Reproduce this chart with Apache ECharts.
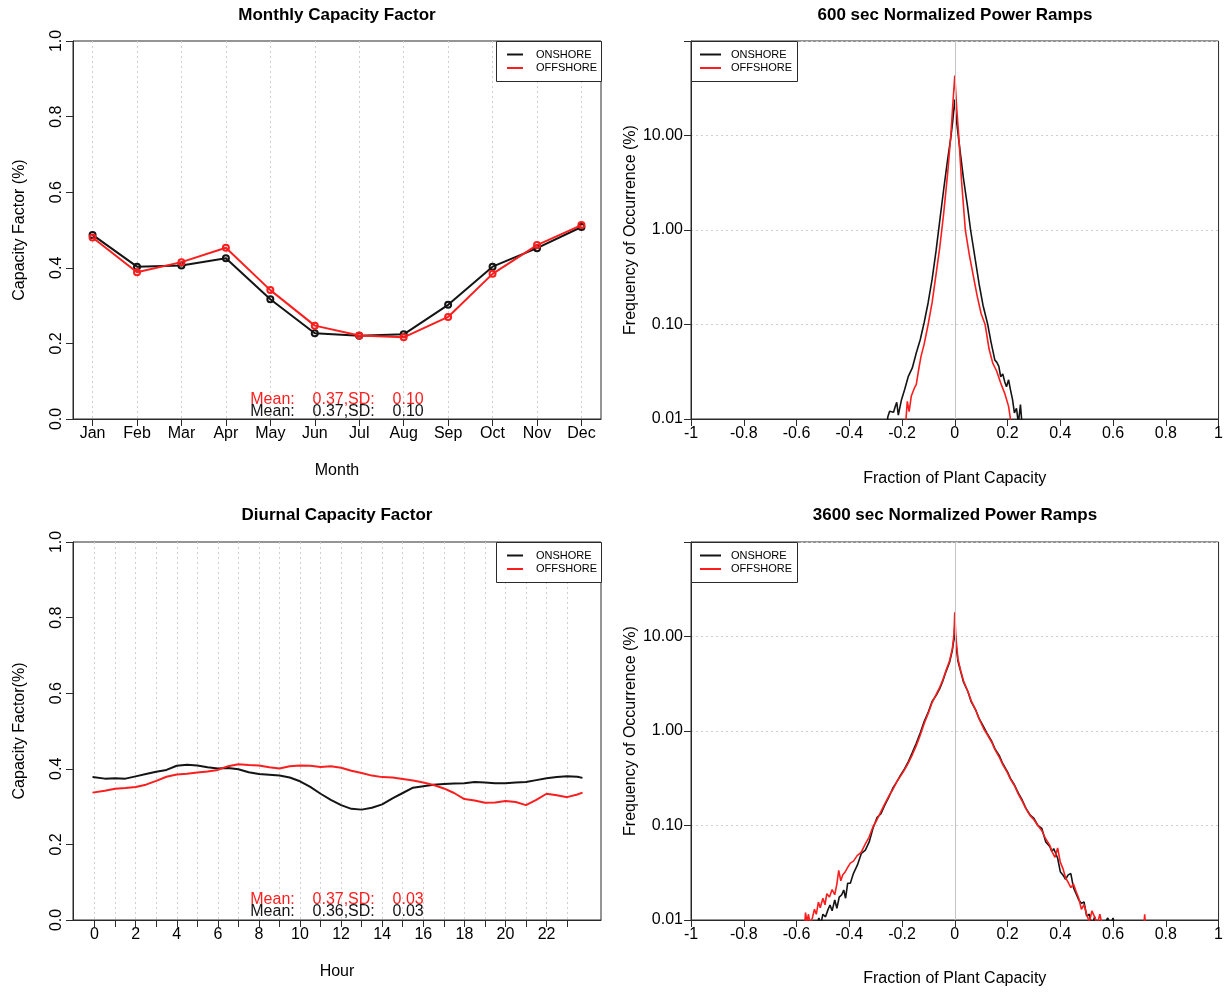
<!DOCTYPE html>
<html>
<head>
<meta charset="utf-8">
<script src="https://cdn.jsdelivr.net/npm/echarts@6/dist/echarts.min.js"></script>
<style>
html, body { margin: 0; padding: 0; background: #fff; }
#chart { width: 1226px; height: 994px; }
</style>
</head>
<body>
<div id="chart"></div>
<script>
// ---- Monthly capacity factor ----
const months = ['Jan', 'Feb', 'Mar', 'Apr', 'May', 'Jun', 'Jul', 'Aug', 'Sep', 'Oct', 'Nov', 'Dec'];
const monthlyOnshore  = [0.487, 0.403, 0.406, 0.425, 0.317, 0.227, 0.220, 0.224, 0.302, 0.403, 0.452, 0.508];
const monthlyOffshore = [0.480, 0.388, 0.415, 0.453, 0.341, 0.247, 0.221, 0.216, 0.270, 0.384, 0.460, 0.513];

// ---- Diurnal capacity factor ----
const diurnalHours = [-0.1, 0.5, 1, 1.5, 2, 2.5, 3, 3.5, 4, 4.5, 5, 5.5, 6, 6.5, 7, 7.5, 8, 8.5, 9, 9.5,
  10, 10.5, 11, 11.5, 12, 12.5, 13, 13.5, 14, 14.5, 15, 15.5, 16, 16.5, 17, 17.5, 18, 18.5, 19, 19.5,
  20, 20.5, 21, 21.5, 22, 22.5, 23, 23.5, 23.75];
const diurnalOnshore = [0.378, 0.374, 0.375, 0.374, 0.380, 0.386, 0.392, 0.397, 0.408, 0.411, 0.409, 0.404,
  0.401, 0.402, 0.399, 0.391, 0.386, 0.384, 0.382, 0.377, 0.367, 0.352, 0.334, 0.318, 0.304, 0.294, 0.292,
  0.297, 0.306, 0.322, 0.336, 0.350, 0.354, 0.358, 0.360, 0.361, 0.362, 0.365, 0.364, 0.362, 0.362, 0.364,
  0.365, 0.370, 0.375, 0.378, 0.380, 0.379, 0.376];
const diurnalOffshore = [0.337, 0.342, 0.347, 0.349, 0.352, 0.358, 0.368, 0.379, 0.385, 0.387, 0.390, 0.393,
  0.397, 0.407, 0.412, 0.410, 0.409, 0.404, 0.401, 0.407, 0.409, 0.408, 0.405, 0.407, 0.403, 0.395, 0.389,
  0.382, 0.378, 0.377, 0.373, 0.369, 0.364, 0.357, 0.348, 0.336, 0.320, 0.316, 0.310, 0.311, 0.315, 0.312,
  0.304, 0.318, 0.334, 0.330, 0.325, 0.332, 0.337];
const hourTicks  = [0, 1, 2, 3, 4, 5, 6, 7, 8, 9, 10, 11, 12, 13, 14, 15, 16, 17, 18, 19, 20, 21, 22, 23];
const hourLabels = [0, 2, 4, 6, 8, 10, 12, 14, 16, 18, 20, 22];

// ---- 600 s ramp distributions: [fraction of capacity, frequency %] ----
const ramp600Onshore = [[-0.26,0.007],[-0.254,0.0105],[-0.247,0.0121],[-0.24,0.012],[-0.232,0.0118],[-0.226,0.0135],
  [-0.22,0.015],[-0.214,0.011],[-0.21,0.0125],[-0.202,0.016],[-0.19,0.0205],[-0.176,0.0283],[-0.161,0.0347],
  [-0.146,0.05],[-0.131,0.069],[-0.116,0.105],[-0.101,0.17],[-0.086,0.3],[-0.071,0.6],[-0.057,1.25],[-0.042,2.7],
  [-0.027,5.6],[-0.015,9.5],[-0.008,14],[0,24],[0.007,14],[0.015,9.0],[0.033,3.5],[0.048,1.8],[0.06,1.0],
  [0.077,0.5],[0.092,0.27],[0.107,0.16],[0.125,0.1],[0.137,0.066],[0.152,0.042],[0.159,0.04],[0.167,0.036],
  [0.174,0.028],[0.182,0.03],[0.189,0.025],[0.196,0.022],[0.204,0.026],[0.211,0.0205],[0.219,0.016],
  [0.226,0.0116],[0.234,0.013],[0.241,0.009],[0.249,0.0142],[0.256,0.008]];
const ramp600Offshore = [[-0.19,0.007],[-0.184,0.0108],[-0.18,0.0154],[-0.173,0.012],[-0.165,0.0174],[-0.153,0.0213],
  [-0.146,0.0231],[-0.138,0.032],[-0.128,0.046],[-0.116,0.062],[-0.101,0.1],[-0.086,0.17],[-0.071,0.34],
  [-0.057,0.65],[-0.042,1.5],[-0.027,4.0],[-0.015,10],[-0.008,20],[0,43],[0.007,20],[0.015,10],[0.025,3.5],
  [0.04,1.0],[0.055,0.55],[0.07,0.33],[0.085,0.2],[0.1,0.13],[0.115,0.1],[0.13,0.055],[0.144,0.039],
  [0.159,0.032],[0.174,0.024],[0.189,0.0188],[0.204,0.0136],[0.211,0.01],[0.215,0.007]];

// ---- 3600 s ramp distributions ----
const ramp3600Onshore = [[-0.53,0.008],[-0.515,0.0105],[-0.508,0.009],[-0.5,0.0115],[-0.49,0.0108],[-0.481,0.0128],
  [-0.473,0.0144],[-0.465,0.0125],[-0.455,0.0163],[-0.447,0.0133],[-0.438,0.0175],[-0.429,0.0184],[-0.421,0.0208],
  [-0.414,0.017],[-0.406,0.0245],[-0.396,0.0245],[-0.384,0.0312],[-0.369,0.0383],[-0.354,0.0508],[-0.339,0.055],
  [-0.324,0.0675],[-0.31,0.0935],[-0.295,0.121],[-0.28,0.133],[-0.265,0.165],[-0.25,0.2],[-0.235,0.248],
  [-0.22,0.29],[-0.205,0.343],[-0.19,0.4],[-0.176,0.475],[-0.161,0.59],[-0.146,0.74],[-0.131,0.95],[-0.116,1.26],
  [-0.1,1.6],[-0.086,2.05],[-0.07,2.4],[-0.057,2.8],[-0.045,3.4],[-0.034,4.2],[-0.02,5.3],[-0.009,7.2],
  [-0.003,9.5],[0,13],[0.004,8.5],[0.012,5.5],[0.022,4.3],[0.033,3.3],[0.05,2.6],[0.062,2.05],[0.08,1.65],
  [0.092,1.36],[0.11,1.1],[0.122,0.95],[0.14,0.78],[0.152,0.65],[0.17,0.54],[0.182,0.45],[0.2,0.37],[0.211,0.315],
  [0.226,0.27],[0.241,0.22],[0.256,0.185],[0.27,0.152],[0.285,0.13],[0.3,0.119],[0.315,0.1],[0.33,0.093],
  [0.345,0.067],[0.36,0.06],[0.368,0.053],[0.375,0.057],[0.39,0.045],[0.4,0.0325],[0.41,0.03],[0.42,0.027],
  [0.43,0.03],[0.44,0.031],[0.45,0.022],[0.46,0.019],[0.47,0.0163],[0.48,0.015],[0.49,0.0155],[0.5,0.011],
  [0.51,0.0115],[0.52,0.0085],[0.53,0.0108],[0.54,0.009],[0.56,0.0085],[0.58,0.0105],[0.59,0.009],[0.6,0.0105],
  [0.61,0.008]];
const ramp3600Offshore = [[-0.57,0.008],[-0.566,0.012],[-0.56,0.0095],[-0.555,0.0115],[-0.548,0.009],[-0.54,0.0105],
  [-0.532,0.013],[-0.525,0.0115],[-0.517,0.0155],[-0.51,0.0135],[-0.5,0.017],[-0.492,0.0145],[-0.485,0.019],
  [-0.475,0.0175],[-0.465,0.021],[-0.455,0.0185],[-0.447,0.024],[-0.44,0.0335],[-0.432,0.026],[-0.425,0.03],
  [-0.415,0.0325],[-0.406,0.036],[-0.396,0.04],[-0.384,0.042],[-0.37,0.048],[-0.355,0.052],[-0.34,0.063],
  [-0.325,0.075],[-0.31,0.097],[-0.295,0.115],[-0.28,0.14],[-0.265,0.17],[-0.25,0.205],[-0.235,0.24],
  [-0.22,0.29],[-0.205,0.335],[-0.19,0.39],[-0.176,0.46],[-0.161,0.56],[-0.146,0.7],[-0.131,0.9],[-0.116,1.2],
  [-0.1,1.55],[-0.086,2.0],[-0.07,2.45],[-0.057,2.9],[-0.045,3.5],[-0.034,4.3],[-0.02,5.5],[-0.009,7.5],
  [-0.003,10.5],[0,18],[0.004,10],[0.012,5.8],[0.022,4.4],[0.033,3.4],[0.05,2.6],[0.062,2.1],[0.08,1.65],
  [0.092,1.35],[0.11,1.05],[0.122,0.93],[0.14,0.76],[0.152,0.64],[0.17,0.52],[0.182,0.44],[0.2,0.36],[0.211,0.31],
  [0.226,0.265],[0.241,0.215],[0.256,0.18],[0.27,0.15],[0.285,0.128],[0.3,0.115],[0.315,0.1],[0.33,0.088],
  [0.345,0.072],[0.36,0.062],[0.37,0.052],[0.38,0.046],[0.39,0.058],[0.4,0.041],[0.41,0.035],[0.42,0.028],
  [0.43,0.025],[0.44,0.022],[0.45,0.024],[0.46,0.02],[0.47,0.017],[0.48,0.013],[0.49,0.0145],[0.5,0.0115],
  [0.51,0.0095],[0.52,0.0125],[0.53,0.0108],[0.54,0.009],[0.55,0.0115],[0.56,0.0085],[0.58,0.005],[0.71,0.005],
  [0.72,0.0115],[0.73,0.005]];

const seriesNames = ['ONSHORE', 'OFFSHORE'];
// summary lines: [onshore, offshore]
const statsMonthly = ['Mean:    0.37,SD:    0.10', 'Mean:    0.37,SD:    0.10'];
const statsDiurnal = ['Mean:    0.36,SD:    0.03', 'Mean:    0.37,SD:    0.03'];

// ---- styling ----
const FONT = '"Liberation Sans", Arial, Helvetica, sans-serif';
const BLACK = '#141414';
const RED = '#fb1e1e';
const FRAME = '#2a2a2a';
const GRIDLINE = '#cfcfcf';
const PW = 528, PH = 378;
const panels = [
  { left: 73,  top: 41 },
  { left: 691, top: 41 },
  { left: 73,  top: 542 },
  { left: 691, top: 542 }
];

const chart = echarts.init(document.getElementById('chart'), null, { renderer: 'canvas' });

const lbl = { color: '#000', fontSize: 16, fontFamily: FONT };
const axisLine = { show: true, onZero: false, lineStyle: { color: FRAME, width: 1 } };
const tick = { show: true, length: 7, inside: false, lineStyle: { color: FRAME, width: 1 } };
const nameStyle = { color: '#000', fontSize: 16, fontFamily: FONT };

function cfYAxis(gridIndex, name) {
  return {
    type: 'value', gridIndex, min: 0, max: 1, interval: 0.2,
    axisLine, axisTick: tick,
    axisLabel: Object.assign({}, lbl, { rotate: 90, margin: 8, formatter: v => v.toFixed(1) }),
    splitLine: { show: false },
    name, nameLocation: 'middle', nameGap: 45, nameRotate: 90, nameTextStyle: nameStyle
  };
}
function rampXAxis(gridIndex, nameGap) {
  return {
    type: 'value', gridIndex, min: -1, max: 1, interval: 0.2,
    axisLine, axisTick: tick,
    axisLabel: Object.assign({}, lbl, { margin: 7, showMinLabel: true, showMaxLabel: true, hideOverlap: false,
      formatter: v => String(Math.round(v * 10) / 10) }),
    splitLine: { show: false },
    name: 'Fraction of Plant Capacity', nameLocation: 'middle', nameGap, nameTextStyle: nameStyle
  };
}
function rampYAxis(gridIndex) {
  return {
    type: 'log', logBase: 10, gridIndex, min: 0.01, max: 100,
    axisLine, axisTick: tick,
    axisLabel: Object.assign({}, lbl, { margin: 8, formatter: v => (v > 50 ? '' : Number(v).toFixed(2)) }),
    splitLine: { show: true, lineStyle: { color: GRIDLINE, type: [2, 3], width: 1 } },
    name: 'Frequency of Occurrence (%)', nameLocation: 'middle', nameGap: 48, nameRotate: 90, nameTextStyle: nameStyle
  };
}

function lineSeries(name, idx, data, color, width, withSymbol) {
  const s = {
    name, type: 'line', xAxisIndex: idx, yAxisIndex: idx, data,
    color, lineStyle: { color, width }, z: name === 'OFFSHORE' ? 4 : 3,
    symbol: 'none', animation: false, clip: true
  };
  if (withSymbol) {
    s.symbol = 'circle';
    s.symbolSize = 6;
    s.showAllSymbol = true;
    s.itemStyle = { color: 'rgba(0,0,0,0)', borderColor: color, borderWidth: 2 };
  }
  return s;
}

function zeroLine(idx) {
  return {
    type: 'line', xAxisIndex: idx, yAxisIndex: idx, data: [], z: 1, silent: true,
    markLine: {
      silent: true, symbol: ['none', 'none'], label: { show: false }, animation: false,
      lineStyle: { color: '#c4c4c4', type: 'solid', width: 1 },
      data: [{ xAxis: 0 }]
    }
  };
}

// legend box drawn with plain graphic shapes
function legendBox(x, y, w, h, lx1, lx2, tx) {
  const rows = [y + 13.5, y + 27];
  return [
    { type: 'rect', shape: { x: x + 0.5, y: y + 0.5, width: w, height: h },
      style: { fill: '#fff', stroke: FRAME, lineWidth: 1 }, z: 10 },
    { type: 'line', shape: { x1: lx1, y1: rows[0], x2: lx2, y2: rows[0] }, style: { stroke: BLACK, lineWidth: 2 }, z: 11 },
    { type: 'line', shape: { x1: lx1, y1: rows[1], x2: lx2, y2: rows[1] }, style: { stroke: RED, lineWidth: 2 }, z: 11 },
    { type: 'text', x: tx, y: rows[0], style: { text: seriesNames[0], fill: '#000', font: '11px ' + FONT, align: 'left', verticalAlign: 'middle' }, z: 11 },
    { type: 'text', x: tx, y: rows[1], style: { text: seriesNames[1], fill: '#000', font: '11px ' + FONT, align: 'left', verticalAlign: 'middle' }, z: 11 }
  ];
}
function titleText(text, cx, cy) {
  return { type: 'text', x: cx, y: cy, style: { text, fill: '#000', font: 'bold 17px ' + FONT, align: 'center', verticalAlign: 'middle' } };
}
function statText(text, cx, cy, color) {
  return { type: 'text', x: cx, y: cy, z: 12, style: { text, fill: color, font: '16px ' + FONT, align: 'center', verticalAlign: 'middle' } };
}

const graphics = [].concat(
  [titleText('Monthly Capacity Factor', panels[0].left + PW / 2, 15),
   titleText('600 sec Normalized Power Ramps', panels[1].left + PW / 2, 15),
   titleText('Diurnal Capacity Factor', panels[2].left + PW / 2, 515),
   titleText('3600 sec Normalized Power Ramps', panels[3].left + PW / 2, 515)],
  legendBox(panels[0].left + PW - 105, panels[0].top, 105, 40, panels[0].left + PW - 94, panels[0].left + PW - 78, panels[0].left + PW - 65),
  legendBox(panels[1].left, panels[1].top, 106, 40, panels[1].left + 9, panels[1].left + 30, panels[1].left + 40),
  legendBox(panels[2].left + PW - 105, panels[2].top, 105, 40, panels[2].left + PW - 94, panels[2].left + PW - 78, panels[2].left + PW - 65),
  legendBox(panels[3].left, panels[3].top, 106, 40, panels[3].left + 9, panels[3].left + 30, panels[3].left + 40),
  [statText(statsMonthly[1], panels[0].left + PW / 2, panels[0].top + PH - 19, RED),
   statText(statsMonthly[0], panels[0].left + PW / 2, panels[0].top + PH - 7, BLACK),
   statText(statsDiurnal[1], panels[2].left + PW / 2, panels[2].top + PH - 20, RED),
   statText(statsDiurnal[0], panels[2].left + PW / 2, panels[2].top + PH - 8, BLACK)]
);

const option = {
  backgroundColor: '#fff',
  animation: false,
  textStyle: { fontFamily: FONT },
  grid: panels.map(p => ({
    left: p.left, top: p.top, width: PW, height: PH, containLabel: false,
    show: true, borderColor: FRAME, borderWidth: 1, backgroundColor: 'transparent'
  })),
  xAxis: [
    {
      type: 'value', gridIndex: 0, min: 0.56, max: 12.44,
      axisLine,
      axisTick: Object.assign({}, tick, { customValues: months.map((m, i) => i + 1) }),
      axisLabel: Object.assign({}, lbl, { margin: 7, customValues: months.map((m, i) => i + 1),
        formatter: v => months[Math.round(v) - 1] }),
      splitLine: { show: true, lineStyle: { color: GRIDLINE, type: [2, 3], width: 1 } },
      name: 'Month', nameLocation: 'middle', nameGap: 44, nameTextStyle: nameStyle
    },
    rampXAxis(1, 52),
    {
      type: 'value', gridIndex: 2, min: -1.05, max: 24.65,
      axisLine,
      axisTick: Object.assign({}, tick, { customValues: hourTicks }),
      axisLabel: Object.assign({}, lbl, { margin: 7, customValues: hourLabels, formatter: v => String(Math.round(v)) }),
      splitLine: { show: true, lineStyle: { color: GRIDLINE, type: [2, 3], width: 1 } },
      name: 'Hour', nameLocation: 'middle', nameGap: 44, nameTextStyle: nameStyle
    },
    rampXAxis(3, 51)
  ],
  yAxis: [
    cfYAxis(0, 'Capacity Factor (%)'),
    rampYAxis(1),
    cfYAxis(2, 'Capacity Factor(%)'),
    rampYAxis(3)
  ],
  series: [
    lineSeries('ONSHORE', 0, monthlyOnshore.map((v, i) => [i + 1, v]), BLACK, 2, true),
    lineSeries('OFFSHORE', 0, monthlyOffshore.map((v, i) => [i + 1, v]), RED, 2, true),
    zeroLine(1),
    lineSeries('ONSHORE', 1, ramp600Onshore, BLACK, 1.6, false),
    lineSeries('OFFSHORE', 1, ramp600Offshore, RED, 1.6, false),
    lineSeries('ONSHORE', 2, diurnalHours.map((h, i) => [h, diurnalOnshore[i]]), BLACK, 2, false),
    lineSeries('OFFSHORE', 2, diurnalHours.map((h, i) => [h, diurnalOffshore[i]]), RED, 2, false),
    zeroLine(3),
    lineSeries('ONSHORE', 3, ramp3600Onshore, BLACK, 1.6, false),
    lineSeries('OFFSHORE', 3, ramp3600Offshore, RED, 1.6, false)
  ],
  graphic: graphics
};

chart.setOption(option);
</script>
</body>
</html>
